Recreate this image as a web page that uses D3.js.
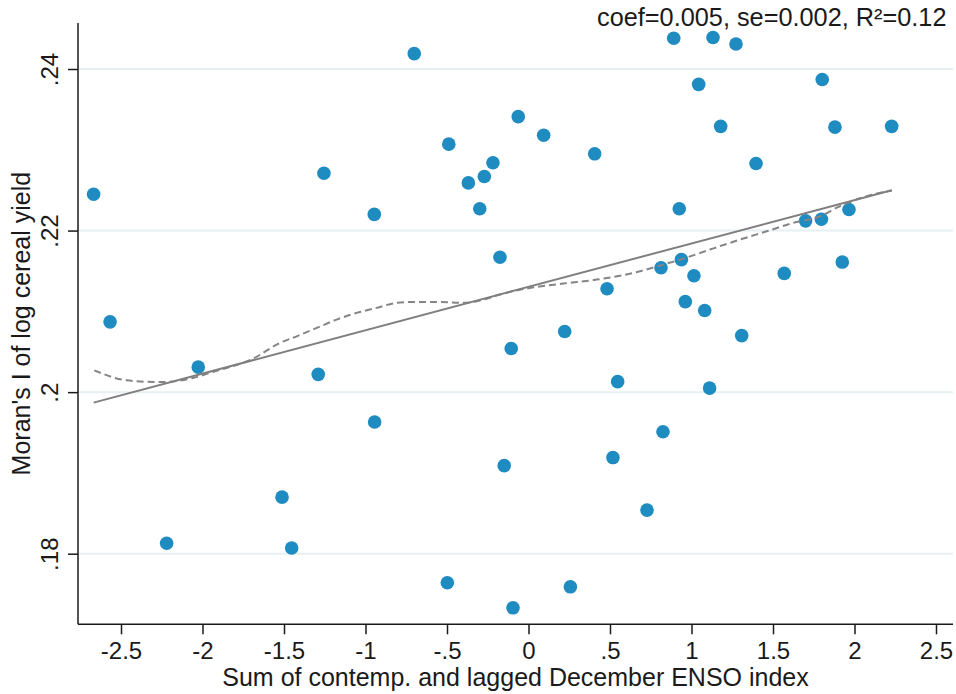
<!DOCTYPE html>
<html>
<head>
<meta charset="utf-8">
<script src="https://cdn.jsdelivr.net/npm/d3@7"></script>
<style>
  html, body { margin: 0; padding: 0; background: #ffffff; }
  svg { display: block; }
  text { font-family: "Liberation Sans", Arial, Helvetica, sans-serif; fill: #1a1a1a; }
</style>
</head>
<body>
<svg id="chart" width="956" height="694"></svg>
<script>
// ENSO index (x) values
const ensoX = [
  -2.668, -2.567, -2.220, -2.026, -1.512, -1.453, -1.290, -1.255, -0.946, -0.944,
  -0.701, -0.498, -0.489, -0.369, -0.299, -0.271, -0.218, -0.175, -0.149, -0.106,
  -0.095, -0.063, 0.093, 0.222, 0.257, 0.406, 0.482, 0.518, 0.547, 0.727,
  0.813, 0.825, 0.891, 0.925, 0.938, 0.962, 1.015, 1.044, 1.081, 1.111,
  1.132, 1.179, 1.273, 1.308, 1.396, 1.569, 1.700, 1.797, 1.802, 1.880,
  1.925, 1.966, 2.228
];
// Moran's I of log cereal yield (y) values
const moranY = [
  0.2245, 0.2087, 0.1813, 0.2031, 0.1870, 0.1807, 0.2022, 0.2271, 0.2220, 0.1963,
  0.2419, 0.1764, 0.2307, 0.2259, 0.2227, 0.2267, 0.2284, 0.2167, 0.1909, 0.2054,
  0.1733, 0.2341, 0.2318, 0.2075, 0.1759, 0.2295, 0.2128, 0.1919, 0.2013, 0.1854,
  0.2154, 0.1951, 0.2438, 0.2227, 0.2164, 0.2112, 0.2144, 0.2381, 0.2101, 0.2005,
  0.2439, 0.2329, 0.2431, 0.2070, 0.2283, 0.2147, 0.2212, 0.2214, 0.2387, 0.2328,
  0.2161, 0.2226, 0.2329
];
// Linear fit endpoints
const fitX = [-2.668, 2.228];
const fitY = [0.1987, 0.2250];
// Lowess smoother
const lowessX = [
  -2.664, -2.465, -2.261, -2.058, -1.936, -1.690, -1.525, -1.422, -1.299, -1.177,
  -1.054, -0.931, -0.809, -0.686, -0.563, -0.400, -0.277, -0.155, 0.009, 0.213,
  0.418, 0.643, 0.807, 0.950, 1.113, 1.298, 1.461, 1.624, 1.788, 1.910,
  2.075, 2.230
];
const lowessY = [
  0.20270, 0.20146, 0.20124, 0.20176, 0.20250, 0.20415, 0.20609, 0.20691, 0.20795, 0.20898,
  0.20981, 0.21043, 0.21105, 0.21117, 0.21117, 0.21105, 0.21146, 0.21220, 0.21290, 0.21344,
  0.21393, 0.21476, 0.21567, 0.21653, 0.21765, 0.21889, 0.21991, 0.22095, 0.22177, 0.22301,
  0.22425, 0.22495
];
const xTicks = [-2.5, -2, -1.5, -1, -0.5, 0, 0.5, 1, 1.5, 2, 2.5];
const xTickLabels = ["-2.5", "-2", "-1.5", "-1", "-.5", "0", ".5", "1", "1.5", "2", "2.5"];
const yTicks = [0.18, 0.20, 0.22, 0.24];
const yTickLabels = [".18", ".2", ".22", ".24"];
const xTitle = "Sum of contemp. and lagged December ENSO index";
const yTitle = "Moran's I of log cereal yield";

const svg = d3.select("#chart");
const pLeft = 78, pRight = 953, pTop = 23, pBottom = 624.3;

const x = d3.scaleLinear().domain([-2.5, 2.5]).range([121, 936]);
const y = d3.scaleLinear().domain([0.18, 0.24]).range([553.7, 69]);

// gridlines
svg.append("g").selectAll("line").data(yTicks).join("line")
  .attr("x1", pLeft).attr("x2", pRight)
  .attr("y1", d => y(d)).attr("y2", d => y(d))
  .attr("stroke", "#e6f0f3").attr("stroke-width", 2);

// points
svg.append("g").selectAll("circle").data(ensoX.map((v, i) => [v, moranY[i]])).join("circle")
  .attr("cx", d => x(d[0])).attr("cy", d => y(d[1]))
  .attr("r", 6.8).attr("fill", "#1e8bc1");

// lowess
const line = d3.line().x(d => x(d[0])).y(d => y(d[1])).curve(d3.curveMonotoneX);
svg.append("path")
  .datum(lowessX.map((v, i) => [v, lowessY[i]]))
  .attr("d", line).attr("fill", "none")
  .attr("stroke", "#858585").attr("stroke-width", 2)
  .attr("stroke-dasharray", "7,4");

// linear fit
svg.append("path")
  .datum(fitX.map((v, i) => [v, fitY[i]]))
  .attr("d", d3.line().x(d => x(d[0])).y(d => y(d[1])))
  .attr("fill", "none").attr("stroke", "#7f7f7f").attr("stroke-width", 2);

// x axis
const xAxis = d3.axisBottom(x).tickValues(xTicks)
  .tickFormat((d, i) => xTickLabels[i]).tickSize(10).tickSizeOuter(0).tickPadding(8);
const gx = svg.append("g").attr("transform", `translate(0,${pBottom})`).call(xAxis);
gx.select(".domain").remove();
gx.append("line").attr("x1", pLeft).attr("x2", pRight).attr("y1", 0).attr("y2", 0)
  .attr("stroke", "#1a1a1a").attr("stroke-width", 1.5);
gx.selectAll(".tick line").attr("stroke", "#1a1a1a").attr("stroke-width", 1.5);
gx.selectAll(".tick text").attr("font-size", 24).attr("fill", "#1a1a1a")
  .attr("font-family", "Liberation Sans, Arial, sans-serif");

// y axis
const yAxis = d3.axisLeft(y).tickValues(yTicks)
  .tickFormat((d, i) => yTickLabels[i]).tickSize(10).tickSizeOuter(0);
const gy = svg.append("g").attr("transform", `translate(${pLeft},0)`).call(yAxis);
gy.select(".domain").remove();
gy.append("line").attr("x1", 0).attr("x2", 0).attr("y1", pTop).attr("y2", pBottom)
  .attr("stroke", "#1a1a1a").attr("stroke-width", 1.5);
gy.selectAll(".tick line").attr("stroke", "#1a1a1a").attr("stroke-width", 1.5);
gy.selectAll(".tick text")
  .attr("font-size", 24).attr("fill", "#1a1a1a")
  .attr("font-family", "Liberation Sans, Arial, sans-serif")
  .attr("x", null).attr("dy", null)
  .attr("text-anchor", "middle")
  .attr("transform", "translate(-20,0) rotate(-90)");

// axis titles
svg.append("text").attr("x", (pLeft + pRight) / 2).attr("y", 686)
  .attr("text-anchor", "middle").attr("font-size", 25).text(xTitle);
svg.append("text")
  .attr("transform", `translate(30,${(pTop + pBottom) / 2}) rotate(-90)`)
  .attr("text-anchor", "middle").attr("font-size", 25).text(yTitle);

// annotation
svg.append("text").attr("x", 946.5).attr("y", 26)
  .attr("text-anchor", "end").attr("font-size", 25.3)
  .text("coef=0.005, se=0.002, R²=0.12");
</script>
</body>
</html>
